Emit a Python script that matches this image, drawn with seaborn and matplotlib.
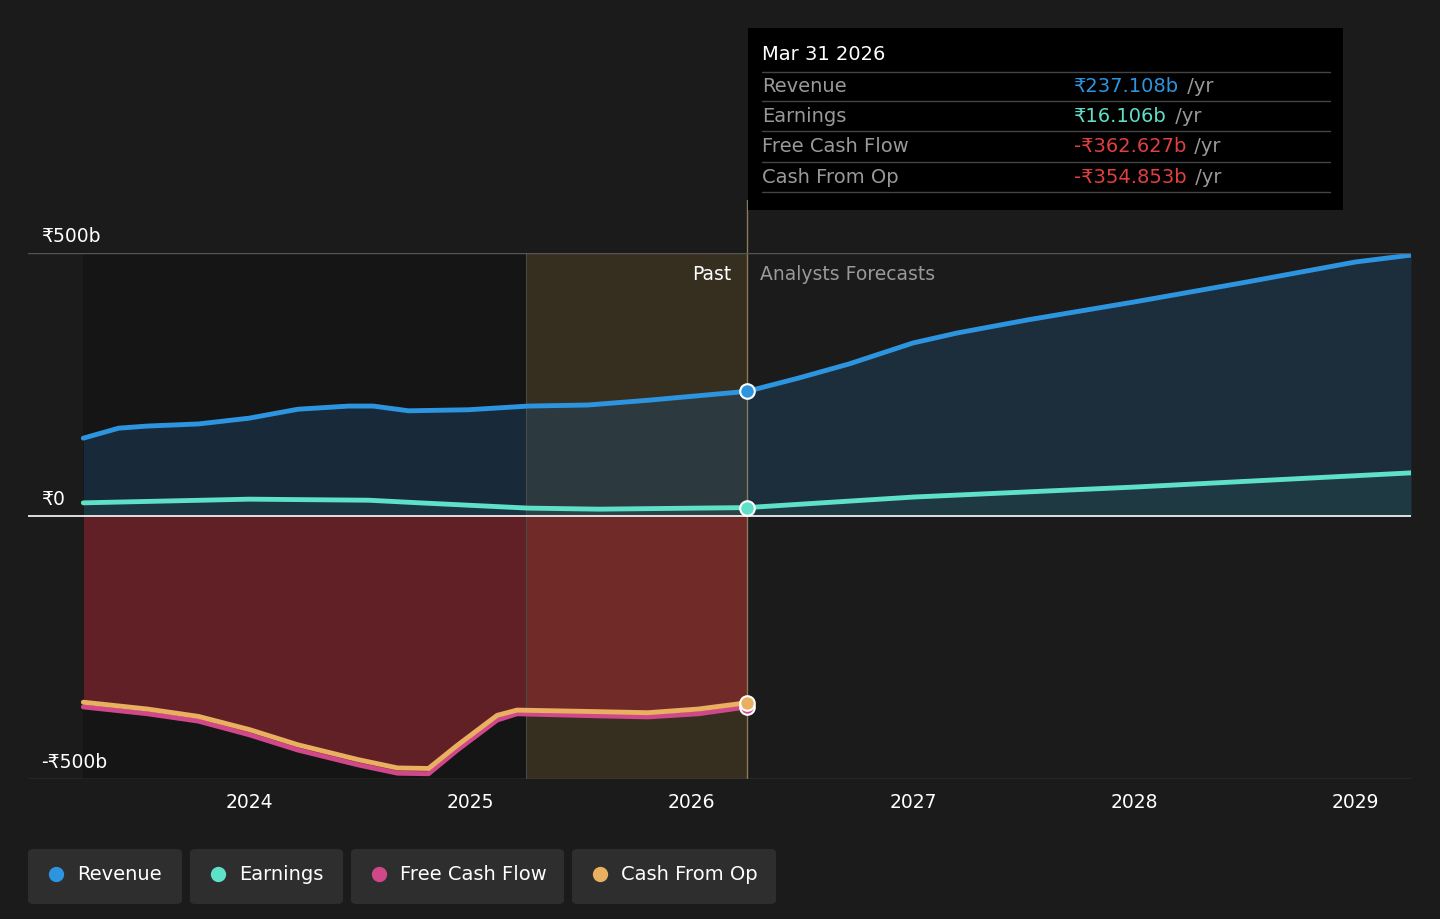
import numpy as np
import pandas as pd
import matplotlib.pyplot as plt
import seaborn as sns
from matplotlib.patches import FancyBboxPatch

# Chart values (in billions)
rev_years = [2023.25, 2023.41, 2023.54, 2023.77, 2024.0, 2024.22, 2024.45, 2024.56, 2024.72, 2024.99,
             2025.26, 2025.53, 2025.8, 2026.25, 2026.48, 2026.71, 2027.0, 2027.2, 2027.52, 2028.0,
             2028.51, 2029.0, 2029.25]
revenue = [148, 167, 171, 175, 186, 203, 209, 209, 200, 202, 209, 211, 220, 237, 262, 289, 329, 348,
           373, 407, 445, 483, 496]
earn_years = [2023.25, 2024.0, 2024.54, 2024.77, 2025.26, 2025.58, 2026.25, 2027.0, 2028.0, 2029.25]
earnings = [25, 32, 30, 25, 15, 13, 16, 36, 55, 82]
fcf_years = [2023.25, 2023.54, 2023.77, 2024.0, 2024.22, 2024.49, 2024.67, 2024.81, 2024.94, 2025.12,
             2025.21, 2025.58, 2025.8, 2026.03, 2026.25]
fcf = [-363, -376, -390, -416, -445, -473, -489, -490, -445, -388, -376, -380, -382, -376, -363]
cfo = [-354, -367, -381, -406, -435, -463, -479, -480, -436, -379, -369, -372, -374, -367, -355]

NOW = 2026.25
BG = '#1b1b1b'


def draw_chart():
    sns.set_style('dark', {'axes.facecolor': BG, 'figure.facecolor': BG})
    plt.rcParams['font.family'] = ['DejaVu Sans']

    fig = plt.figure(figsize=(14.4, 9.19), dpi=100)
    ax = fig.add_axes([28 / 1440, 1 - 779 / 919, 1383 / 1440, 526 / 919])
    ax.set_xlim(2023.0, 2029.25)
    ax.set_ylim(-500, 500)

    # Past / shaded regions
    ax.axvspan(2023.25, 2025.25, color='#111111', alpha=0.5, lw=0)
    ax.axvspan(2025.25, NOW, color='#6b5228', alpha=0.35, lw=0)
    ax.axvline(2025.25, color='#4a4a4a', lw=0.8)
    ax.axvline(NOW, color='#8a7a5a', lw=1)
    ax.plot([NOW, NOW], [500, 600], color='#8a7a5a', lw=1, clip_on=False)

    # Area fills
    ax.fill_between(rev_years, revenue, 0, color='#1e4a70', alpha=0.4, lw=0)
    ax.fill_between(earn_years, earnings, 0, color='#2c6b60', alpha=0.2, lw=0)
    ax.fill_between(fcf_years, fcf, 0, color='#a02a33', alpha=0.55, lw=0)

    df_rev = pd.DataFrame({'x': rev_years, 'y': revenue})
    df_earn = pd.DataFrame({'x': earn_years, 'y': earnings})
    df_fcf = pd.DataFrame({'x': fcf_years, 'y': fcf})
    df_cfo = pd.DataFrame({'x': fcf_years, 'y': cfo})
    sns.lineplot(data=df_rev, x='x', y='y', color='#2d95e0', lw=3.5, ax=ax)
    sns.lineplot(data=df_earn, x='x', y='y', color='#5fe0c8', lw=3.5, ax=ax)
    sns.lineplot(data=df_fcf, x='x', y='y', color='#d0488a', lw=3.5, ax=ax)
    sns.lineplot(data=df_cfo, x='x', y='y', color='#e8b060', lw=3.5, ax=ax)

    for val, col in [(237, '#2d95e0'), (16, '#5fe0c8'), (-363, '#d0488a'), (-355, '#e8b060')]:
        ax.scatter([NOW], [val], s=110, color=col, edgecolor='white', lw=1.5, zorder=5)

    ax.axhline(0, color='white', lw=1.2)
    ax.axhline(500, color='#555555', lw=1)
    ax.axhline(-500, color='#555555', lw=1)

    ax.text(2023.06, 520, '₹500b', color='white', fontsize=13.5)
    ax.text(2023.06, 20, '₹0', color='white', fontsize=13.5)
    ax.text(2023.06, -480, '-₹500b', color='white', fontsize=13.5)
    ax.text(NOW - 0.07, 448, 'Past', color='white', fontsize=13.5, ha='right')
    ax.text(NOW + 0.06, 448, 'Analysts Forecasts', color='#999999', fontsize=13.5)

    ax.set_xticks([2024, 2025, 2026, 2027, 2028, 2029])
    ax.set_xticklabels(['2024', '2025', '2026', '2027', '2028', '2029'], color='white', fontsize=13.5)
    ax.set_yticks([])
    ax.set_xlabel('')
    ax.set_ylabel('')
    ax.tick_params(axis='x', length=0, pad=10)
    for s in ax.spines.values():
        s.set_visible(False)

    # Tooltip
    fig.patches.append(FancyBboxPatch((748 / 1440, 1 - 210 / 919), 595 / 1440, 182 / 919,
                                      boxstyle='square,pad=0', transform=fig.transFigure,
                                      facecolor='black', edgecolor='none'))
    fig.text(762 / 1440, 1 - 55 / 919, 'Mar 31 2026', color='white', fontsize=14, va='center')
    rows = [('Revenue', '₹237.108b', '#2d95e0'), ('Earnings', '₹16.106b', '#5fe0c8'),
            ('Free Cash Flow', '-₹362.627b', '#e04040'), ('Cash From Op', '-₹354.853b', '#e04040')]
    renderer = fig.canvas.get_renderer()
    for i, (name, val, col) in enumerate(rows):
        yy = 1 - (86 + 30.5 * i) / 919
        fig.text(762 / 1440, yy, name, color='#999999', fontsize=14, va='center')
        t = fig.text(1074 / 1440, yy, val, color=col, fontsize=14, va='center')
        x1 = t.get_window_extent(renderer).x1
        fig.text((x1 + 2) / 1440, yy, ' /yr', color='#999999', fontsize=14, va='center')
        fig.add_artist(plt.Line2D([762 / 1440, 1330 / 1440], [yy - 15 / 919] * 2, color='#444444', lw=1))
    fig.add_artist(plt.Line2D([762 / 1440, 1330 / 1440], [1 - 72 / 919] * 2, color='#444444', lw=1))

    # Legend buttons
    legend = [('Revenue', '#2d95e0', 28, 154), ('Earnings', '#5fe0c8', 190, 153),
              ('Free Cash Flow', '#d0488a', 351, 213), ('Cash From Op', '#e8b060', 572, 204)]
    for name, col, x0, w in legend:
        fig.patches.append(FancyBboxPatch((x0 / 1440, 1 - 904 / 919), w / 1440, 55 / 919,
                                          boxstyle='round,pad=0,rounding_size=0.004',
                                          transform=fig.transFigure, facecolor='#2e2e2e', edgecolor='none'))
        fig.add_artist(plt.Line2D([(x0 + 28) / 1440], [1 - 874 / 919], marker='o', markersize=10,
                                  color=col, lw=0))
        fig.text((x0 + 49) / 1440, 1 - 874 / 919, name, color='white', fontsize=14, va='center')

    fig.savefig('out.png', dpi=100, facecolor=BG)


if __name__ == "__main__":
    draw_chart()
